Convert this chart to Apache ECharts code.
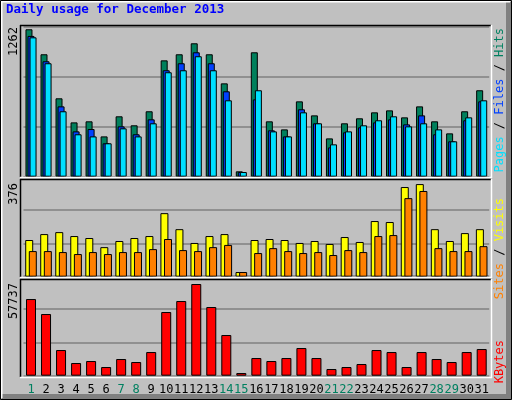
<!DOCTYPE html>
<html><head><meta charset="utf-8">
<script src="https://cdn.jsdelivr.net/npm/echarts@6/dist/echarts.min.js"></script>
<style>html,body{margin:0;padding:0;background:#c0c0c0}#c{width:512px;height:400px}</style>
</head><body><div id="c"></div>
<script>
const days = ['1','2','3','4','5','6','7','8','9','10','11','12','13','14','15','16','17','18','19','20','21','22','23','24','25','26','27','28','29','30','31'];
const weekend = ['1','7','8','14','15','21','22','28','29'];
const hits  = [1262,1048,671,465,474,345,517,440,560,996,1048,1142,1048,799,46,1065,474,405,645,525,328,457,500,551,568,508,602,474,371,560,740];
const files = [1205,988,602,388,408,286,431,363,491,911,971,1065,971,731,40,662,397,345,577,457,251,380,423,465,491,448,525,363,303,483,645];
const pages = [1193,971,560,363,345,286,414,345,457,894,911,1031,911,654,40,740,388,345,551,457,277,388,440,483,517,431,457,405,303,508,654];
const sites  = [149,173,181,165,157,120,145,157,165,258,193,137,165,173,19,149,153,149,137,145,133,161,141,226,222,364,376,193,145,177,193];
const visits = [104,104,100,92,100,92,100,100,112,153,108,104,120,129,19,96,116,104,96,100,88,108,100,165,169,319,348,116,104,104,124];
const kbytes = [48270,38830,16160,7980,9240,5460,10500,8610,14900,40090,47020,57737,43240,25610,1680,11120,9240,11120,17420,11120,4200,5460,7350,16160,14900,5460,14900,10500,8610,14900,16790];
const maxLabels = ['1262','376','57737'];

const chart = echarts.init(document.getElementById('c'));
const L = 23.5, R = 22.8;
const grids = [
  {left:L,right:R,top:26.7,height:150},
  {left:L,right:R,top:176.7,height:100},
  {left:L,right:R,top:275.7,height:100}
];
const maxes = [1284,406,62963];
const xAxes = grids.map((g,i)=>({
  type:'category', gridIndex:i, data: days.map(d=>({value:d,textStyle:{color: weekend.includes(d)?'#008060':'#000'}})),
  axisLine:{show:false}, axisTick:{show:false},
  axisLabel:{show:i===2, fontFamily:'DejaVu Sans Mono', fontSize:12, margin:8, interval:0}
}));
const yAxes = maxes.map((m,i)=>({
  type:'value', gridIndex:i, min:0, max:m, interval:m/3,
  axisLabel:{show:false}, axisLine:{show:false}, axisTick:{show:false},
  splitLine:{show:true, lineStyle:{color:'#808080', width:1.5}}
}));
const bs = (name,data,color,gi,w,gap)=>({
  type:'bar', name, data, xAxisIndex:gi, yAxisIndex:gi, barWidth:w, barGap:gap,
  itemStyle:{color, borderColor:'#000', borderWidth:1}, animation:false, silent:true
});
const line=(x1,y1,x2,y2,c,w)=>({type:'line',shape:{x1,y1,x2,y2},style:{stroke:c,lineWidth:w||1},z:100});
const panels=[[25,177],[179,277],[279,377]];
const graphics=[];
panels.forEach(([t,b])=>{
  graphics.push(line(20,t+0.5,491,t+0.5,'#000',1.5));
  graphics.push(line(20.5,t,20.5,b,'#000',1.5));
  graphics.push(line(491.5,t,491.5,b+1,'#fff',1.5));
  graphics.push(line(20,b+0.5,492,b+0.5,'#fff',1.5));
});
graphics.push(line(1.5,1,1.5,398,'#fff',2));
graphics.push(line(1,1.5,510,1.5,'#fff',2));
graphics.push({type:'rect',shape:{x:506,y:2,width:5,height:396},style:{fill:'#808080'},z:99});
graphics.push({type:'rect',shape:{x:2,y:394,width:509,height:5},style:{fill:'#808080'},z:99});
graphics.push({type:'rect',shape:{x:0.5,y:0.5,width:511,height:399},style:{fill:'none',stroke:'#000',lineWidth:1},z:101});
graphics.push({type:'text',x:6,y:10,style:{text:'Daily usage for December 2013',fill:'#0000ff',font:'bold 12.5px "DejaVu Sans Mono"',verticalAlign:'middle'},z:102});
[[14,27],[14,183],[14,283]].forEach(([x,y],i)=>{
  graphics.push({type:'text',x,y,rotation:Math.PI/2,style:{text:maxLabels[i],fill:'#000',font:'12px "DejaVu Sans Mono"',align:'right',verticalAlign:'middle'},z:102});
});
const rt=(x,y,text,rich)=>({type:'text',x,y,rotation:Math.PI/2,style:{text,rich,align:'right',verticalAlign:'middle',font:'12px "DejaVu Sans Mono"'},z:102});
graphics.push(rt(500,28,'{p|Pages} {s|/} {f|Files} {s|/} {h|Hits}',{p:{fill:'#00e0ff',font:'12px "DejaVu Sans Mono"'},f:{fill:'#0040ff',font:'12px "DejaVu Sans Mono"'},h:{fill:'#008060',font:'12px "DejaVu Sans Mono"'},s:{fill:'#000',font:'12px "DejaVu Sans Mono"'}}));
graphics.push(rt(500,198,'{a|Sites} {s|/} {b|Visits}',{a:{fill:'#ff8000',font:'12px "DejaVu Sans Mono"'},b:{fill:'#ffff00',font:'12px "DejaVu Sans Mono"'},s:{fill:'#000',font:'12px "DejaVu Sans Mono"'}}));
graphics.push(rt(500,340,'KBytes',null));
graphics[graphics.length-1].style.fill='#ff0000';

chart.setOption({
  backgroundColor:'#c0c0c0', animation:false,
  grid:grids, xAxis:xAxes, yAxis:yAxes,
  series:[
    bs('Hits',hits,'#00805c',0,7,'-71%'),
    bs('Files',files,'#0040ff',0,7,'-71%'),
    bs('Pages',pages,'#00e0ff',0,7,'-71%'),
    bs('Sites',sites,'#ffff00',1,8,'-55%'),
    bs('Visits',visits,'#ff8000',1,8,'-55%'),
    bs('KBytes',kbytes,'#ff0000',2,10,'0%')
  ],
  graphic:graphics
});
</script></body></html>
